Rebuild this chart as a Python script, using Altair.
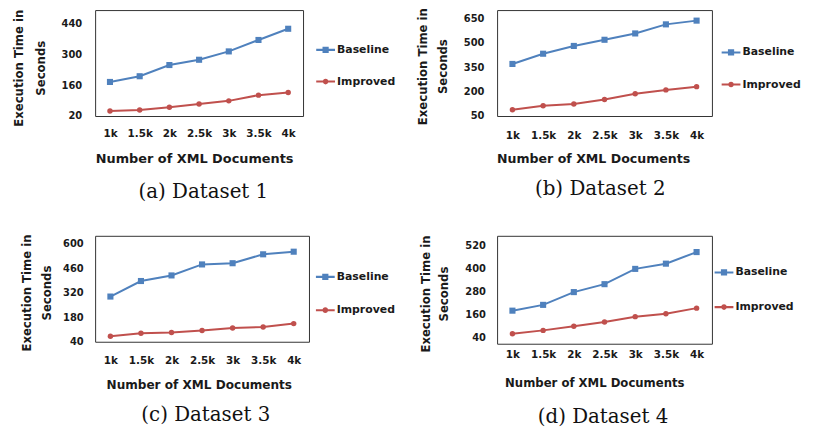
import altair as alt
import pandas as pd

docs = ["1k", "1.5k", "2k", "2.5k", "3k", "3.5k", "4k"]
series_names = ["Baseline", "Improved"]
series_colors = ["#4F81BD", "#C0504D"]

ds1_baseline = [175, 201, 252, 276, 314, 366, 417]
ds1_improved = [43, 47, 60, 75, 89, 115, 127]
ds1_ticks = [20, 160, 300, 440]
ds1_domain = [20, 502]

ds2_baseline = [371, 434, 482, 520, 559, 615, 638]
ds2_improved = [89, 113, 124, 152, 187, 211, 231]
ds2_ticks = [50, 200, 350, 500, 650]
ds2_domain = [50, 703]

ds3_baseline = [299, 388, 420, 483, 490, 541, 556]
ds3_improved = [72, 89, 93, 104, 119, 125, 144]
ds3_ticks = [40, 180, 320, 460, 600]
ds3_domain = [40, 647]

ds4_baseline = [181, 211, 277, 318, 397, 424, 484]
ds4_improved = [62, 79, 100, 122, 150, 165, 194]
ds4_ticks = [40, 160, 280, 400, 520]
ds4_domain = [10, 568]

captions = ["(a) Dataset 1", "(b) Dataset 2", "(c) Dataset 3", "(d) Dataset 4"]
y_title = ["Execution Time in", "Seconds"]
x_title = "Number of XML Documents"

# legend symbols: line segment + marker (unit square coordinates)
SYM_SQUARE = "M-1,-0.11H1V0.11H-1Z M-0.33,-0.33H0.33V0.33H-0.33Z"
SYM_CIRCLE = "M-1,-0.11H1V0.11H-1Z M-0.3,0A0.3,0.3 0 1,1 0.3,0A0.3,0.3 0 1,1 -0.3,0Z"

TEXT = "#1a1a1a"

layouts = [
    dict(w=210, h=107, ytx=-71.2, yty=58.2, ylh=22, ylab=13.5, xlab=17.6, xty=42.6, xtx=100, xtfs=13,
         lx=223.3, ly=30.7, rp=17, cap_off=17.4, cap_dx=4.3),
    dict(w=217, h=107, ytx=-69.2, yty=56.6, ylh=20, ylab=13.3, xlab=20, xty=43.4, xtx=97, xtfs=12.7,
         lx=226.8, ly=33.3, rp=17.4, cap_off=14, cap_dx=-4.3),
    dict(w=216, h=107, ytx=-63.5, yty=57.3, ylh=20.7, ylab=12, xlab=19, xty=43, xtx=104.7, xtfs=12.2,
         lx=223, ly=32, rp=18.6, cap_off=15, cap_dx=3.8),
    dict(w=217, h=109, ytx=-65.8, yty=58.3, ylh=17.5, ylab=11.7, xlab=10.7, xty=39, xtx=98.2, xtfs=11.8,
         lx=219.7, ly=27.5, rp=20, cap_off=18.3, cap_dx=-1.5),
]


def panel(baseline, improved, ticks, domain, caption, L):
    df = pd.DataFrame({
        "docs": docs + docs,
        "series": [series_names[0]] * len(docs) + [series_names[1]] * len(docs),
        "time": baseline + improved,
    })
    color_scale = alt.Scale(domain=series_names, range=series_colors)
    x = alt.X(
        "docs:N", sort=docs, scale=alt.Scale(type="point", padding=0.5),
        axis=alt.Axis(
            title=x_title, labelAngle=0, labelPadding=L["xlab"], labelBaseline="middle",
            labelFontSize=10.5, labelOverlap=False, ticks=False, tickSize=0, domain=False, grid=False,
            titleX=L["xtx"], titleY=L["xty"], titleBaseline="middle", titleAlign="center",
            titleFont="DejaVu Sans", titleFontSize=L["xtfs"], titleFontWeight="bold",
        ),
    )
    y = alt.Y(
        "time:Q", scale=alt.Scale(domain=domain, nice=False, zero=False),
        axis=alt.Axis(
            title=y_title, values=ticks, labelPadding=L["ylab"], labelFontSize=10,
            labelOverlap=False, ticks=False, tickSize=0, domain=False, grid=False,
            titleX=L["ytx"], titleY=L["yty"], titleAngle=270, titleBaseline="bottom",
            titleAlign="center", titleLineHeight=L["ylh"], titleFont="DejaVu Sans",
            titleFontSize=11.8, titleFontWeight="bold", titleLimit=400,
        ),
    )
    color = alt.Color("series:N", scale=color_scale, legend=None)
    base = alt.Chart(df).encode(x=x, y=y, color=color)

    leg_def = alt.Legend(
        title=None, orient="none", legendX=L["lx"], legendY=L["ly"], direction="vertical",
        rowPadding=L["rp"], padding=0, labelFont="DejaVu Sans", labelFontSize=11,
        labelFontWeight="bold", labelColor=TEXT, labelOffset=2, symbolSize=360,
        symbolStrokeWidth=0, symbolOpacity=1,
    )
    legend_layer = base.transform_filter("false").mark_point(
        filled=True, size=360, opacity=1, strokeWidth=0
    ).encode(
        color=alt.Color("series:N", scale=color_scale, legend=leg_def),
        shape=alt.Shape("series:N", scale=alt.Scale(domain=series_names, range=[SYM_SQUARE, SYM_CIRCLE]),
                        legend=leg_def),
    )
    line = base.mark_line(strokeWidth=2)
    squares = base.transform_filter(alt.datum.series == series_names[0]).mark_square(size=38, opacity=1)
    circles = base.transform_filter(alt.datum.series == series_names[1]).mark_circle(size=30, opacity=1)

    return alt.layer(legend_layer, line, squares, circles).properties(
        width=L["w"], height=L["h"],
        title=alt.TitleParams(
            text=caption, orient="bottom", anchor="middle", frame="group",
            offset=L["cap_off"], dx=L["cap_dx"], font="DejaVu Serif", fontSize=20,
            fontWeight="normal", color="#111111",
        ),
    )


panels = [
    panel(ds1_baseline, ds1_improved, ds1_ticks, ds1_domain, captions[0], layouts[0]),
    panel(ds2_baseline, ds2_improved, ds2_ticks, ds2_domain, captions[1], layouts[1]),
    panel(ds3_baseline, ds3_improved, ds3_ticks, ds3_domain, captions[2], layouts[2]),
    panel(ds4_baseline, ds4_improved, ds4_ticks, ds4_domain, captions[3], layouts[3]),
]

chart = alt.concat(
    *panels, columns=2, spacing={"row": 119, "column": 189}, bounds="flush", align="all"
).resolve_scale(
    color="independent", shape="independent"
).resolve_legend(
    color="independent", shape="independent"
).properties(
    autosize=alt.AutoSizeParams(type="none"),
    padding={"left": 88, "top": 0, "right": 717, "bottom": 419},
).configure_view(
    stroke="#333333", strokeWidth=1
).configure_axis(
    labelFont="DejaVu Sans", labelFontWeight="bold", labelColor=TEXT, titleColor=TEXT
)

chart.save("out.html", embed_options={"renderer": "svg", "actions": False})
